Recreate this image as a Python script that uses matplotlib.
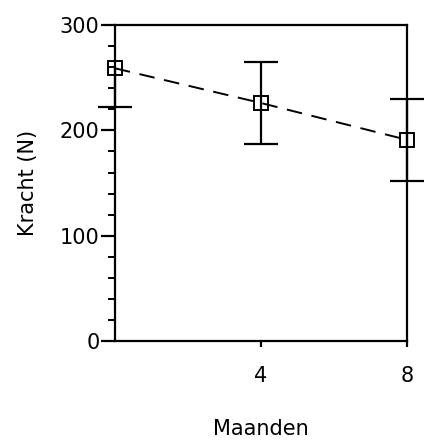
import numpy as np
import matplotlib.pyplot as plt
from matplotlib.ticker import MultipleLocator

# Data
maanden = np.array([0, 4, 8])
kracht = np.array([259, 226, 191])
err_laag = np.array([37, 39, 39])
err_hoog = np.array([0, 39, 39])

fig = plt.figure(figsize=(4.35, 4.40), dpi=100)
ax = fig.add_axes([0.264, 0.225, 0.672, 0.718])

# Dashed line through the means
ax.plot(maanden, kracht, linestyle=(0, (8, 5)), color='black', lw=1.4, clip_on=False, zorder=2)

# Error bars (vertical parts), caps drawn separately so the first point has only a lower cap
ax.errorbar(maanden, kracht, yerr=[err_laag, err_hoog], fmt='none', ecolor='black',
            elinewidth=1.6, capsize=0, clip_on=False, zorder=3)
ax.plot(maanden, kracht - err_laag, linestyle='none', marker='_', markersize=25,
        markeredgewidth=1.6, color='black', clip_on=False, zorder=3)
heeft_hoog = err_hoog > 0
ax.plot(maanden[heeft_hoog], (kracht + err_hoog)[heeft_hoog], linestyle='none', marker='_',
        markersize=25, markeredgewidth=1.6, color='black', clip_on=False, zorder=3)

# Open squares
ax.plot(maanden, kracht, linestyle='none', marker='s', markersize=10,
        markerfacecolor='none', markeredgecolor='black', markeredgewidth=1.4,
        clip_on=False, zorder=4)

ax.set_xlim(0, 8)
ax.set_ylim(0, 300)
ax.set_xticks([4, 8])
ax.set_yticks([0, 100, 200, 300])
ax.yaxis.set_minor_locator(MultipleLocator(20))

for s in ax.spines.values():
    s.set_linewidth(1.6)

ax.tick_params(axis='y', which='major', direction='out', length=10, width=1.6, labelsize=15, pad=1)
ax.tick_params(axis='y', which='minor', direction='out', length=5, width=1.4)
ax.tick_params(axis='x', which='major', direction='out', length=4, width=1.6, labelsize=15, pad=14)

ax.set_xlabel('Maanden', fontsize=15, labelpad=24)
ax.set_ylabel('Kracht (N)', fontsize=15, labelpad=16)

fig.savefig('out.png', dpi=100)
